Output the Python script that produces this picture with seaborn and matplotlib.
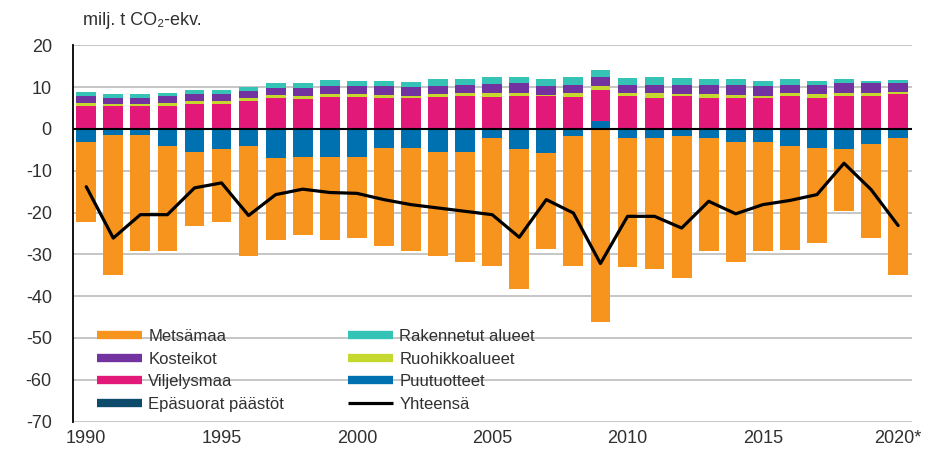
import numpy as np
import matplotlib
matplotlib.use('Agg')
import matplotlib.pyplot as plt
import seaborn as sns
from matplotlib.lines import Line2D

sns.set_style('white')
plt.rcParams['font.family'] = ['Liberation Sans', 'DejaVu Sans']
plt.rcParams['axes.unicode_minus'] = False

## data (milj. t CO2-ekv.)
years = list(range(1990, 2021))

metsamaa = [-19.0, -33.5, -27.8, -25.2, -17.8, -17.4, -26.5, -19.5, -18.7, -19.9,
            -19.5, -23.5, -24.7, -25.1, -26.5, -30.5, -33.5, -22.9, -30.9, -46.1,
            -30.8, -31.4, -34.0, -27.0, -28.9, -26.2, -24.9, -22.7, -14.8, -22.6, -32.8]
puutuotteet = [-3.2, -1.4, -1.4, -4.0, -5.4, -4.8, -4.0, -7.0, -6.6, -6.6,
               -6.6, -4.5, -4.5, -5.4, -5.4, -2.2, -4.8, -5.8, -1.8, 1.9,
               -2.2, -2.2, -1.6, -2.2, -3.0, -3.0, -4.0, -4.5, -4.8, -3.5, -2.2]
viljelysmaa = [5.4, 5.4, 5.4, 5.4, 5.9, 5.9, 6.8, 7.5, 7.1, 7.6,
               7.7, 7.3, 7.3, 7.7, 7.8, 7.6, 7.8, 7.8, 7.6, 7.5,
               7.8, 7.5, 7.9, 7.5, 7.5, 7.3, 7.9, 7.3, 7.9, 7.9, 8.4]
epasuorat = [0.0, 0.0, 0.0, 0.0, 0.0, 0.0, 0.0, 0.0, 0.0, 0.0,
             0.0, 0.0, 0.0, 0.0, 0.0, 0.0, 0.0, 0.0, 0.0, 0.0,
             0.0, 0.0, 0.0, 0.0, 0.0, 0.0, 0.0, 0.0, 0.0, 0.0, 0.0]
ruohikko = [0.8, 0.6, 0.6, 0.8, 0.8, 0.8, 0.7, 0.6, 0.8, 0.7,
            0.6, 0.8, 0.7, 0.6, 0.8, 1.0, 0.8, 0.3, 1.0, 0.8,
            0.8, 1.1, 0.5, 0.8, 0.6, 0.6, 0.8, 1.0, 0.8, 0.8, 0.4]
kosteikot = [1.7, 1.5, 1.5, 1.7, 1.7, 1.7, 1.7, 1.7, 1.8, 1.9,
             1.9, 2.1, 2.1, 1.9, 2.0, 2.2, 2.5, 2.2, 2.0, 2.2,
             2.0, 2.0, 2.1, 2.3, 2.5, 2.3, 1.9, 2.3, 2.4, 2.4, 2.2]
rakennetut = [1.0, 0.9, 0.9, 0.8, 1.0, 1.0, 0.8, 1.3, 1.3, 1.4,
              1.2, 1.2, 1.2, 1.7, 1.3, 1.6, 1.3, 1.6, 1.8, 1.7,
              1.6, 1.8, 1.8, 1.3, 1.3, 1.2, 1.3, 0.8, 0.8, 0.3, 0.8]
yhteensa = [-13.8, -26.1, -20.5, -20.5, -14.1, -12.9, -20.7, -15.7, -14.4, -15.2,
            -15.4, -16.9, -18.1, -18.9, -19.7, -20.5, -25.9, -16.9, -20.1, -32.2,
            -20.9, -20.9, -23.7, -17.3, -20.3, -18.1, -17.1, -15.7, -8.2, -14.5, -23.1]

xtick_years = [1990, 1995, 2000, 2005, 2010, 2015, 2020]
xtick_labels = ['1990', '1995', '2000', '2005', '2010', '2015', '2020*']

# värit
colors = {
    'Metsämaa': '#F7941D',
    'Kosteikot': '#7232A0',
    'Viljelysmaa': '#E3197A',
    'Epäsuorat päästöt': '#0D4A6B',
    'Rakennetut alueet': '#35C3B5',
    'Ruohikkoalueet': '#C5D82E',
    'Puutuotteet': '#0071B0',
}

# pinoamisjärjestys (alhaalta ylös)
stack = [('Puutuotteet', puutuotteet), ('Metsämaa', metsamaa),
         ('Viljelysmaa', viljelysmaa), ('Epäsuorat päästöt', epasuorat),
         ('Ruohikkoalueet', ruohikko), ('Kosteikot', kosteikot),
         ('Rakennetut alueet', rakennetut)]

fig = plt.figure(figsize=(9.39, 4.49), dpi=100)
ax = fig.add_axes([0.0774, 0.061, 0.8935, 0.838])

pos = np.zeros(len(years))
neg = np.zeros(len(years))
for name, vals in stack:
    v = np.array(vals)
    bottom = np.where(v >= 0, pos, neg)
    sns.barplot(x=years, y=v, bottom=bottom, native_scale=True, width=0.73,
                color=colors[name], saturation=1, errorbar=None, linewidth=0,
                ax=ax, zorder=2)
    pos = pos + np.where(v >= 0, v, 0)
    neg = neg + np.where(v < 0, v, 0)

ax.axhline(0, color='black', lw=1.5, zorder=3)
sns.lineplot(x=years, y=yhteensa, color='black', lw=2.3, ax=ax, zorder=4)

ax.set_xlim(1989.5, 2020.5)
ax.set_ylim(-70, 20)
ax.set_yticks(range(-70, 21, 10))
ax.set_xticks(xtick_years)
ax.set_xticklabels(xtick_labels)
ax.yaxis.grid(True, color='#c6c6c6', lw=1.4)
ax.xaxis.grid(False)
ax.set_axisbelow(True)
for s in ['top', 'right', 'bottom']:
    ax.spines[s].set_visible(False)
ax.spines['left'].set_color('black')
ax.spines['left'].set_linewidth(1.3)
ax.tick_params(axis='y', length=3, width=0.8, color='#888888', pad=12,
               labelsize=13, labelcolor='#303030')
ax.tick_params(axis='x', length=0, pad=6, labelsize=13, labelcolor='#303030')
ax.set_xlabel('')
ax.set_ylabel('')

fig.text(0.088, 0.955, 'milj. t CO₂-ekv.', fontsize=13, va='center',
         color='#303030')

legend_order = ['Metsämaa', 'Kosteikot', 'Viljelysmaa', 'Epäsuorat päästöt',
                'Rakennetut alueet', 'Ruohikkoalueet', 'Puutuotteet']
handles = [Line2D([], [], color=colors[n], lw=6, solid_capstyle='butt') for n in legend_order]
handles.append(Line2D([], [], color='black', lw=2.3, solid_capstyle='butt'))
labels = legend_order + ['Yhteensä']
ax.legend(handles, labels, loc='upper left', bbox_to_anchor=(0.0286, 0.246),
          ncol=2, frameon=False, borderpad=0, borderaxespad=0, handlelength=2.7,
          handletextpad=0.4, labelspacing=0.45, columnspacing=3.8, fontsize=12,
          labelcolor='#303030')

fig.savefig('out.png', dpi=100)
